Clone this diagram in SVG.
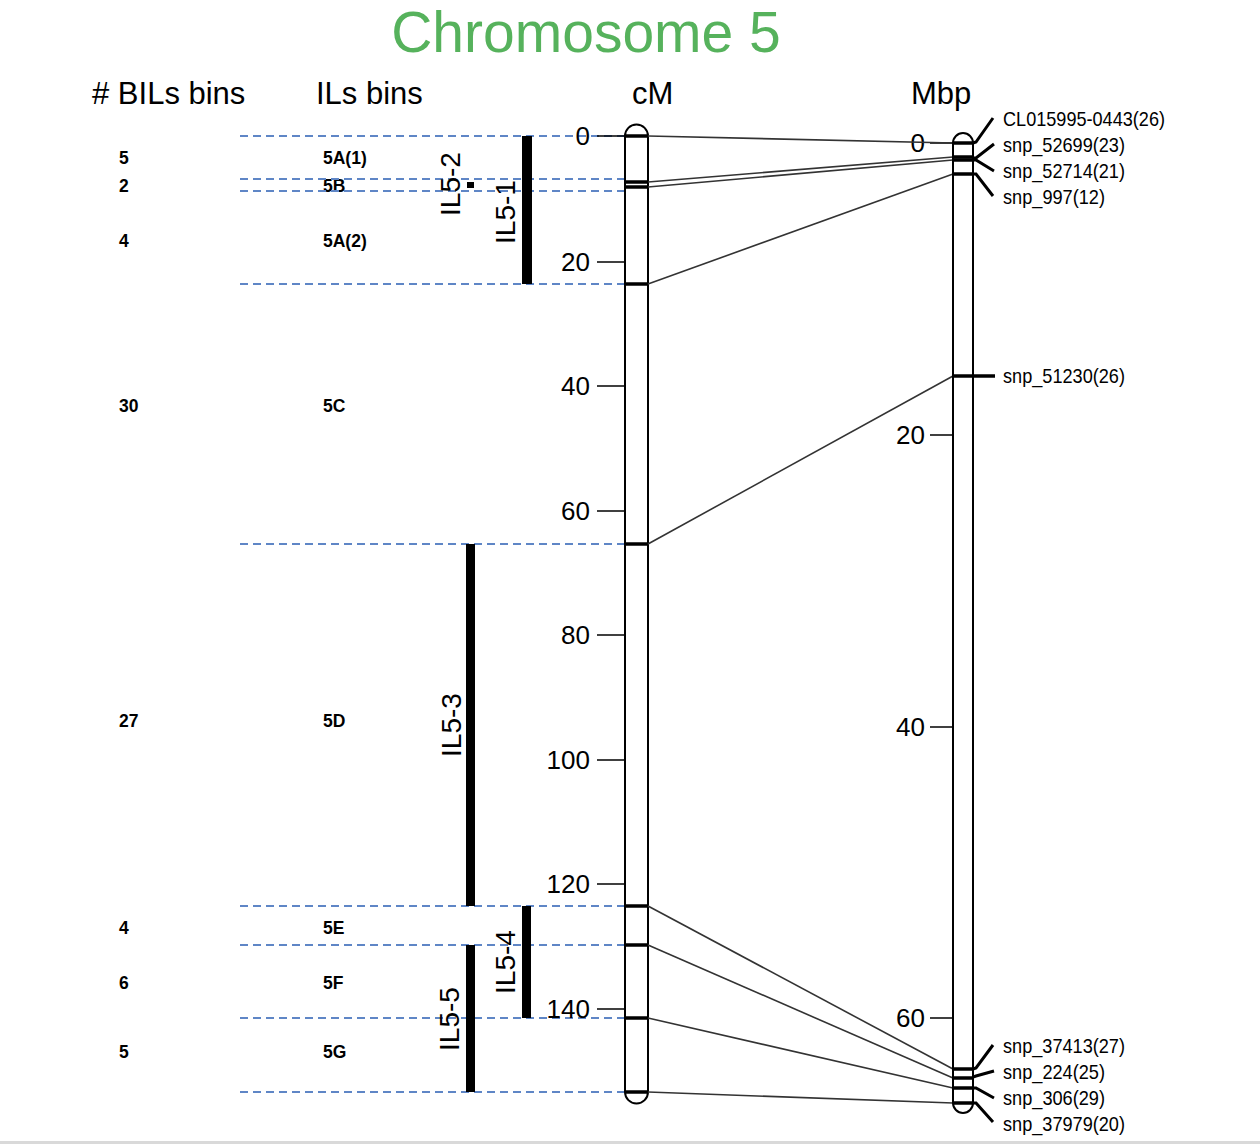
<svg xmlns="http://www.w3.org/2000/svg" width="1260" height="1144" viewBox="0 0 1260 1144">
<style>
.hdr{font-family:"Liberation Sans",Arial,sans-serif;font-size:31px;fill:#000}
.bin{font-family:"Liberation Sans",Arial,sans-serif;font-size:17.5px;font-weight:bold;fill:#000}
.tick{font-family:"Liberation Sans",Arial,sans-serif;font-size:26px;fill:#000;text-anchor:end}
.il{font-family:"Liberation Sans",Arial,sans-serif;font-size:28px;fill:#000;text-anchor:middle}
.mk{font-family:"Liberation Sans",Arial,sans-serif;font-size:21px;fill:#000}
.dash{stroke:#5f86c6;stroke-width:1.8;stroke-dasharray:8 5;fill:none}
.chr{fill:#fff;stroke:#000;stroke-width:2}
.band{stroke:#000;stroke-width:3.5}
.tk{stroke:#000;stroke-width:1.5}
.con{stroke:#333;stroke-width:1.6;fill:none}
.lead{stroke:#000;stroke-width:3;fill:none}
.bar{fill:#000}
</style>
<rect width="1260" height="1144" fill="#fff"/>
<rect x="0" y="1141" width="1260" height="3" fill="#d9d9d9"/>
<text x="586" y="52" font-family="Liberation Sans,Arial,sans-serif" font-size="57" fill="#56b25c" text-anchor="middle">Chromosome 5</text>
<g id="headers">
<text class="hdr" x="92" y="104"># BILs bins</text>
<text class="hdr" x="316" y="104">ILs bins</text>
<text class="hdr" x="632" y="104">cM</text>
<text class="hdr" x="911" y="104">Mbp</text>
</g>
<g id="bins">
<text class="bin" x="119" y="164">5</text><text class="bin" x="323" y="164">5A(1)</text>
<text class="bin" x="119" y="192">2</text><text class="bin" x="323" y="192">5B</text>
<text class="bin" x="119" y="247">4</text><text class="bin" x="323" y="247">5A(2)</text>
<text class="bin" x="119" y="412">30</text><text class="bin" x="323" y="412">5C</text>
<text class="bin" x="119" y="727">27</text><text class="bin" x="323" y="727">5D</text>
<text class="bin" x="119" y="934">4</text><text class="bin" x="323" y="934">5E</text>
<text class="bin" x="119" y="989">6</text><text class="bin" x="323" y="989">5F</text>
<text class="bin" x="119" y="1058">5</text><text class="bin" x="323" y="1058">5G</text>
</g>
<g id="dashes">
<line class="dash" x1="240" y1="136" x2="625" y2="136"/>
<line class="dash" x1="240" y1="179" x2="625" y2="179"/>
<line class="dash" x1="240" y1="191" x2="625" y2="191"/>
<line class="dash" x1="240" y1="284" x2="625" y2="284"/>
<line class="dash" x1="240" y1="544" x2="625" y2="544"/>
<line class="dash" x1="240" y1="906" x2="625" y2="906"/>
<line class="dash" x1="240" y1="945" x2="625" y2="945"/>
<line class="dash" x1="240" y1="1018" x2="625" y2="1018"/>
<line class="dash" x1="240" y1="1092" x2="625" y2="1092"/>
</g>
<g id="IL5-1"><rect class="bar" x="522" y="136" width="10" height="148"/><text class="il" transform="translate(515,212) rotate(-90)">IL5-1</text></g>
<g id="IL5-2"><rect class="bar" x="467" y="182" width="7" height="6"/><text class="il" transform="translate(460,184) rotate(-90)">IL5-2</text></g>
<g id="IL5-3"><rect class="bar" x="466" y="544" width="9" height="362"/><text class="il" transform="translate(461,725) rotate(-90)">IL5-3</text></g>
<g id="IL5-4"><rect class="bar" x="522" y="906" width="9" height="112"/><text class="il" transform="translate(515,962) rotate(-90)">IL5-4</text></g>
<g id="IL5-5"><rect class="bar" x="466" y="945" width="9" height="147"/><text class="il" transform="translate(459,1019) rotate(-90)">IL5-5</text></g>
<g id="cM-axis">
<line class="tk" x1="597" y1="136" x2="625" y2="136"/><text class="tick" x="590" y="145">0</text>
<line class="tk" x1="597" y1="262" x2="625" y2="262"/><text class="tick" x="590" y="271">20</text>
<line class="tk" x1="597" y1="386" x2="625" y2="386"/><text class="tick" x="590" y="395">40</text>
<line class="tk" x1="597" y1="511" x2="625" y2="511"/><text class="tick" x="590" y="520">60</text>
<line class="tk" x1="597" y1="635" x2="625" y2="635"/><text class="tick" x="590" y="644">80</text>
<line class="tk" x1="597" y1="760" x2="625" y2="760"/><text class="tick" x="590" y="769">100</text>
<line class="tk" x1="597" y1="884" x2="625" y2="884"/><text class="tick" x="590" y="893">120</text>
<line class="tk" x1="597" y1="1009" x2="625" y2="1009"/><text class="tick" x="590" y="1018">140</text>
</g>
<g id="cM-chromosome">
<path class="chr" d="M625,1092 V136 A11.5,11.5 0 0 1 648,136 V1092 A11.5,11.5 0 0 1 625,1092 Z"/>
<line class="band" x1="625" y1="136" x2="648" y2="136"/>
<line class="band" x1="625" y1="182" x2="648" y2="182"/>
<line class="band" x1="625" y1="187" x2="648" y2="187"/>
<line class="band" x1="625" y1="284" x2="648" y2="284"/>
<line class="band" x1="625" y1="544" x2="648" y2="544"/>
<line class="band" x1="625" y1="906" x2="648" y2="906"/>
<line class="band" x1="625" y1="945" x2="648" y2="945"/>
<line class="band" x1="625" y1="1018" x2="648" y2="1018"/>
<line class="band" x1="625" y1="1092" x2="648" y2="1092"/>
</g>
<g id="Mbp-axis">
<line class="tk" x1="930" y1="143" x2="953" y2="143"/><text class="tick" x="925" y="152">0</text>
<line class="tk" x1="930" y1="435" x2="953" y2="435"/><text class="tick" x="925" y="444">20</text>
<line class="tk" x1="930" y1="727" x2="953" y2="727"/><text class="tick" x="925" y="736">40</text>
<line class="tk" x1="930" y1="1018" x2="953" y2="1018"/><text class="tick" x="925" y="1027">60</text>
</g>
<g id="connectors">
<line class="con" x1="648" y1="136" x2="953" y2="143"/>
<line class="con" x1="648" y1="182" x2="953" y2="157"/>
<line class="con" x1="648" y1="187" x2="953" y2="160"/>
<line class="con" x1="648" y1="284" x2="953" y2="174"/>
<line class="con" x1="648" y1="544" x2="953" y2="376"/>
<line class="con" x1="648" y1="906" x2="953" y2="1069"/>
<line class="con" x1="648" y1="945" x2="953" y2="1078"/>
<line class="con" x1="648" y1="1018" x2="953" y2="1088"/>
<line class="con" x1="648" y1="1092" x2="953" y2="1103"/>
</g>
<g id="Mbp-chromosome">
<path class="chr" d="M953,1103 V143 A10,10 0 0 1 973,143 V1103 A10,10 0 0 1 953,1103 Z"/>
<line class="band" x1="953" y1="143" x2="973" y2="143"/>
<line class="band" x1="953" y1="157" x2="973" y2="157"/>
<line class="band" x1="953" y1="160" x2="973" y2="160"/>
<line class="band" x1="953" y1="174" x2="973" y2="174"/>
<line class="band" x1="953" y1="376" x2="995" y2="376"/>
<line class="band" x1="953" y1="1069" x2="973" y2="1069"/>
<line class="band" x1="953" y1="1078" x2="973" y2="1078"/>
<line class="band" x1="953" y1="1088" x2="973" y2="1088"/>
<line class="band" x1="953" y1="1103" x2="973" y2="1103"/>
</g>
<g id="marker-labels">
<polyline class="lead" points="973,143 976,142 993,118"/>
<polyline class="lead" points="973,158 976,158 994,144"/>
<polyline class="lead" points="973,160 976,160 994,171"/>
<polyline class="lead" points="973,174 976,174 993,196"/>
<text class="mk" x="1003" y="126" textLength="162" lengthAdjust="spacingAndGlyphs">CL015995-0443(26)</text>
<text class="mk" x="1003" y="152" textLength="122" lengthAdjust="spacingAndGlyphs">snp_52699(23)</text>
<text class="mk" x="1003" y="178" textLength="122" lengthAdjust="spacingAndGlyphs">snp_52714(21)</text>
<text class="mk" x="1003" y="204" textLength="102" lengthAdjust="spacingAndGlyphs">snp_997(12)</text>
<text class="mk" x="1003" y="383" textLength="122" lengthAdjust="spacingAndGlyphs">snp_51230(26)</text>
<polyline class="lead" points="973,1069 976,1068 993,1045"/>
<polyline class="lead" points="973,1077 976,1076 994,1071"/>
<polyline class="lead" points="973,1088 976,1088 994,1098"/>
<polyline class="lead" points="973,1103 976,1103 993,1122"/>
<text class="mk" x="1003" y="1053" textLength="122" lengthAdjust="spacingAndGlyphs">snp_37413(27)</text>
<text class="mk" x="1003" y="1079" textLength="102" lengthAdjust="spacingAndGlyphs">snp_224(25)</text>
<text class="mk" x="1003" y="1105" textLength="102" lengthAdjust="spacingAndGlyphs">snp_306(29)</text>
<text class="mk" x="1003" y="1131" textLength="122" lengthAdjust="spacingAndGlyphs">snp_37979(20)</text>
</g>
</svg>
